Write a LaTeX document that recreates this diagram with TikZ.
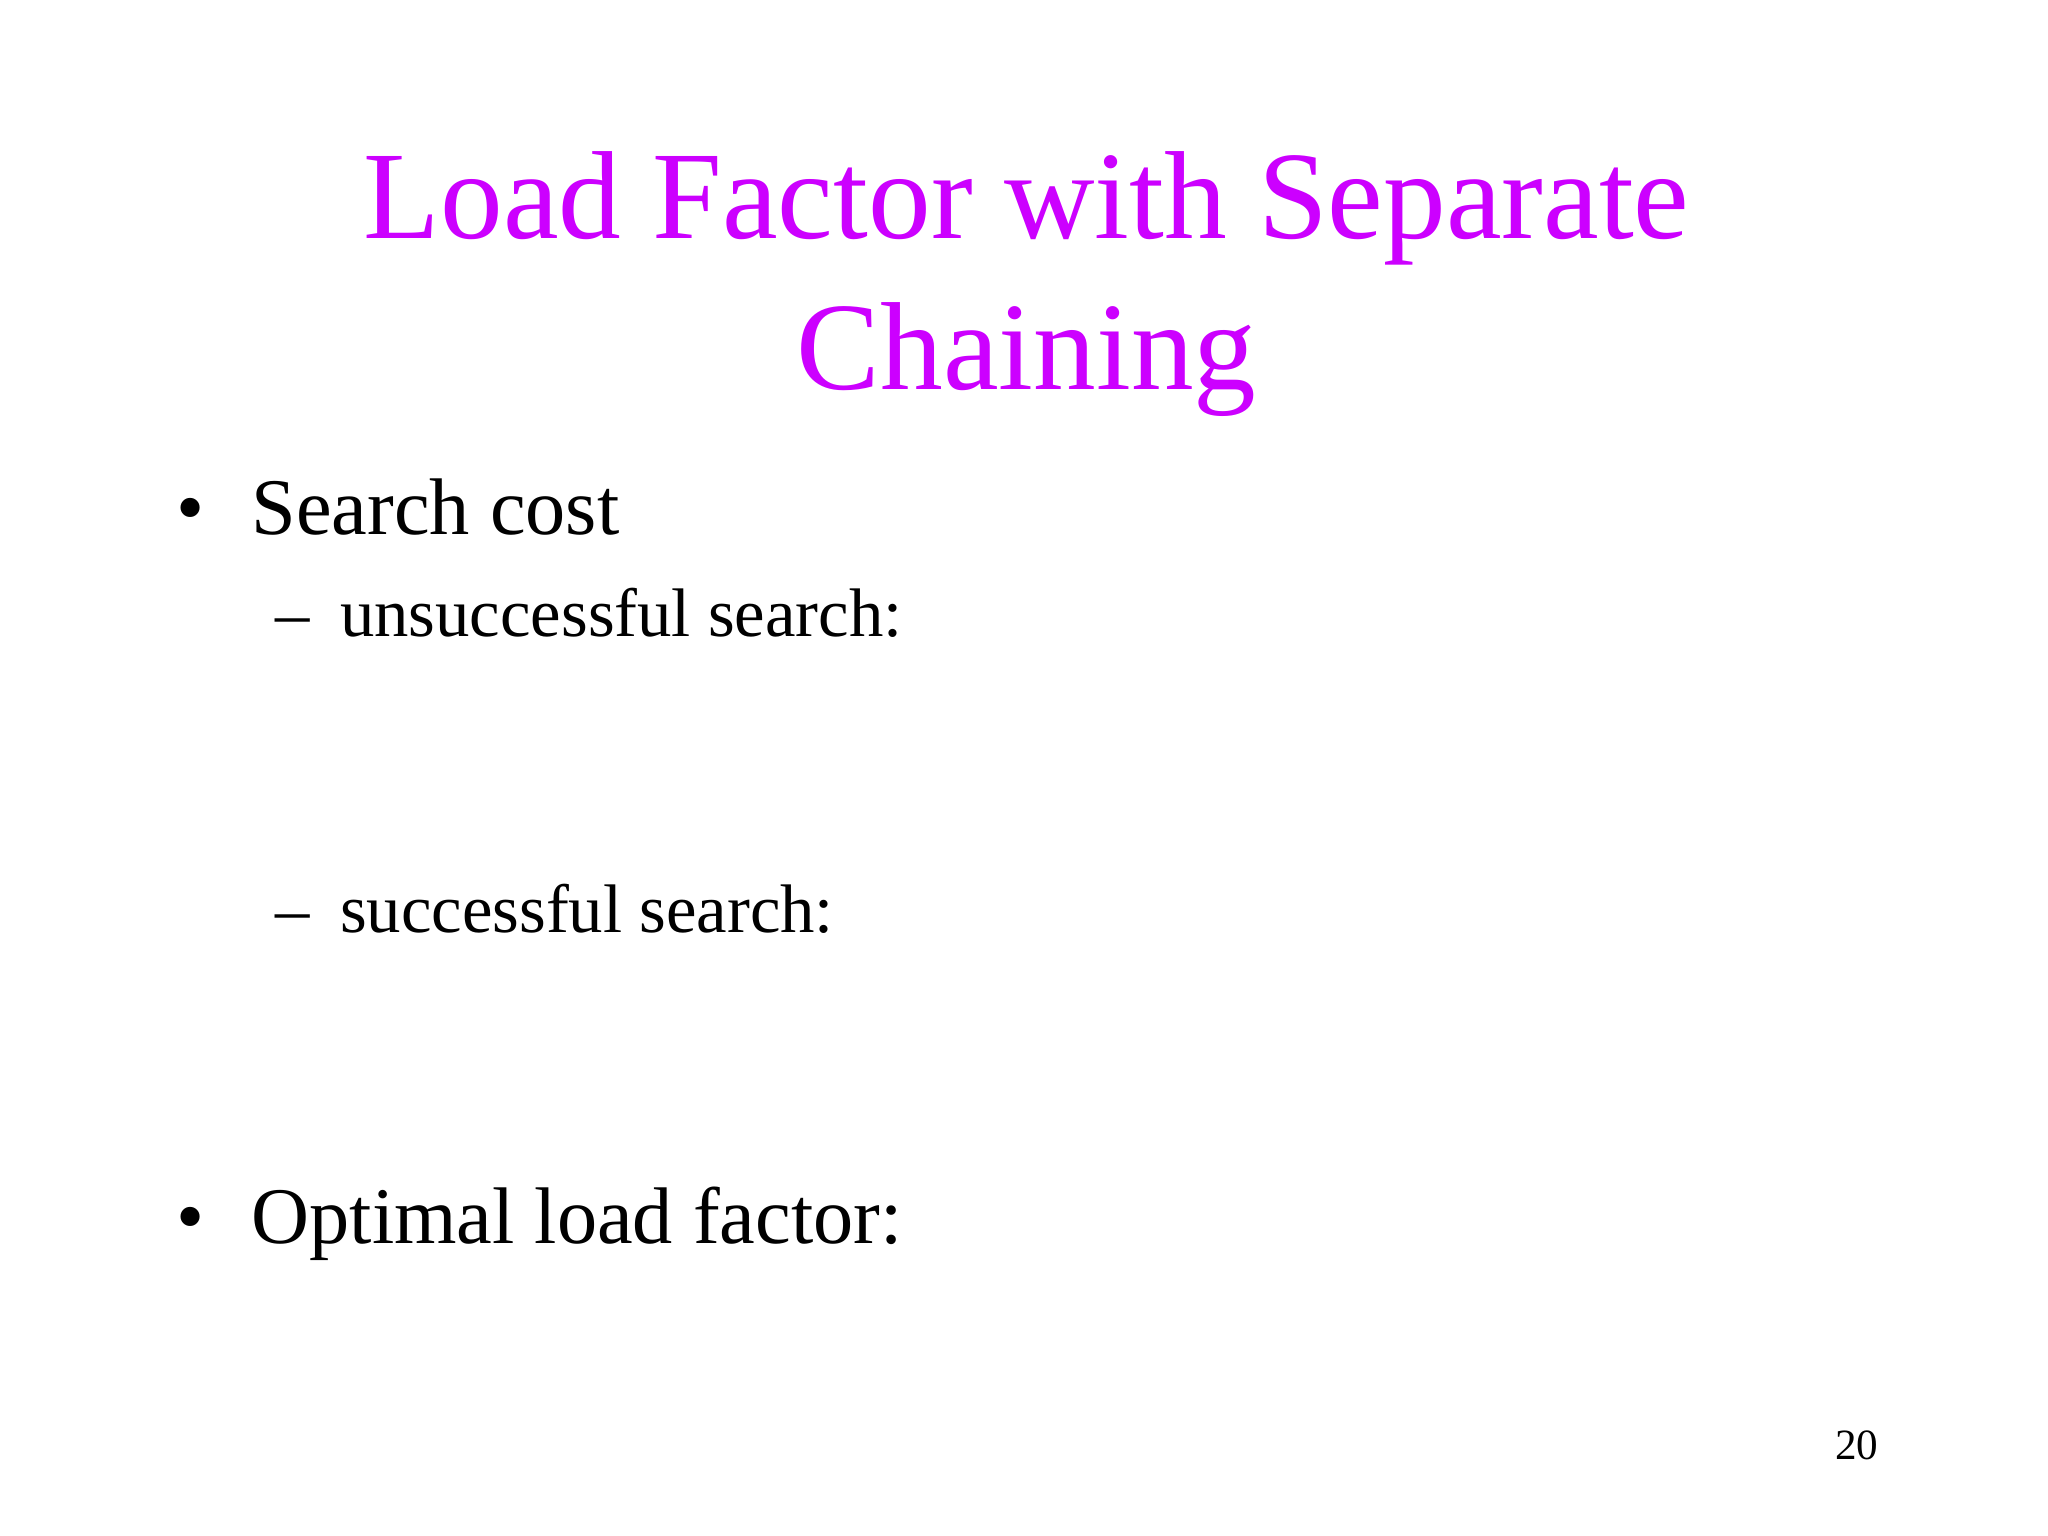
\documentclass[tikz,border=0pt]{standalone}
\usepackage{fontspec}
\setmainfont{Liberation Serif}
\definecolor{ttl}{RGB}{204,0,255}
\begin{document}
\begin{tikzpicture}[x=0.01cm,y=-0.01cm,
  ttlstyle/.style={text=ttl,font=\fontsize{27}{32}\selectfont,inner sep=0},
  lvlone/.style={anchor=base west,font=\fontsize{17.3}{21}\selectfont,inner sep=0},
  lvltwo/.style={anchor=base west,font=\fontsize{14.8}{18}\selectfont,inner sep=0}]
\useasboundingbox (0,0) rectangle (1552,1164);
\node[ttlstyle,anchor=base] (t1) at (778,181) {Load Factor with Separate};
\node[ttlstyle,anchor=base] (t2) at (778,295) {Chaining};
\node[lvlone] (b1) at (133,405) {•};
\node[lvlone] (s1) at (190,405) {Search cost};
\node[lvltwo] (d1) at (208,482) {–};
\node[lvltwo] (s2) at (257,482) {unsuccessful search:};
\node[lvltwo] (d2) at (208,707) {–};
\node[lvltwo] (s3) at (257,707) {successful search:};
\node[lvlone] (b2) at (133,942) {•};
\node[lvlone] (s4) at (190,942) {Optimal load factor:};
\node[anchor=base east,font=\fontsize{9.3}{11}\selectfont,inner sep=0] (pg) at (1424,1106) {20};
\end{tikzpicture}
\end{document}
